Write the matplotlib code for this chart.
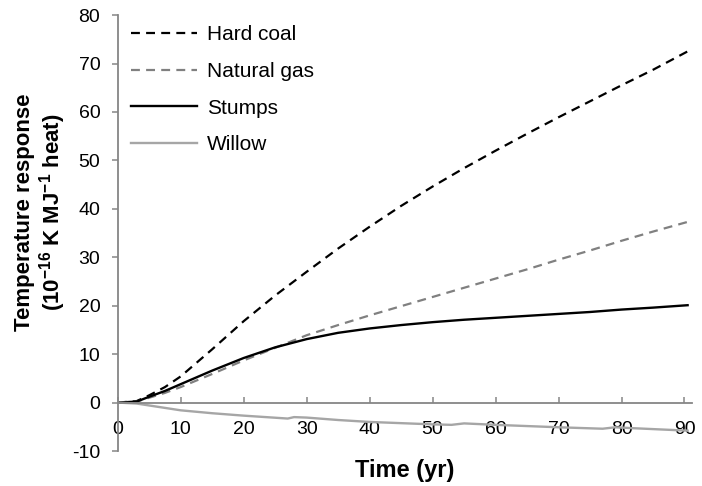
import matplotlib
matplotlib.use('Agg')
import matplotlib.pyplot as plt

plt.rcParams['font.family'] = ['Liberation Sans', 'DejaVu Sans']
plt.rcParams['mathtext.default'] = 'regular'
plt.rcParams['axes.unicode_minus'] = False

# time axis (yr) and responses (10^-16 K MJ^-1 heat)
years = [0, 3, 5, 7.5, 10, 15, 20, 25, 30, 35, 40, 45, 50, 55, 60, 65, 70, 75, 80, 85, 90.5]
hard_coal = [0, 0.3, 1.5, 3.2, 5.4, 11.0, 16.8, 22.1, 27.0, 31.8, 36.3, 40.6, 44.6, 48.4,
             52.0, 55.5, 58.9, 62.2, 65.5, 68.7, 72.5]
natural_gas = [0, 0.2, 1.0, 2.0, 3.2, 5.9, 8.7, 11.3, 13.9, 16.0, 18.0, 19.9, 21.8, 23.7,
               25.6, 27.5, 29.5, 31.4, 33.4, 35.3, 37.3]
stumps = [0, 0.2, 1.2, 2.4, 3.8, 6.6, 9.2, 11.4, 13.1, 14.4, 15.3, 16.0, 16.6, 17.1,
          17.5, 17.9, 18.3, 18.7, 19.2, 19.6, 20.1]
willow_years = [0, 3, 5, 10, 15, 20, 27, 28, 30, 35, 40, 50, 53, 55, 60, 70, 77, 79, 82, 90.5]
willow = [0, -0.2, -0.6, -1.6, -2.2, -2.7, -3.3, -3.0, -3.1, -3.6, -4.0, -4.5, -4.6, -4.3,
          -4.6, -5.1, -5.4, -5.1, -5.3, -5.8]

series_names = ['Hard coal', 'Natural gas', 'Stumps', 'Willow']

fig = plt.figure(figsize=(7.02, 4.86), dpi=100)
ax = fig.add_axes([0.1677, 0.072, 0.8181, 0.897])

ax.plot(years, hard_coal, color='black', lw=1.6, dashes=(4, 2.8), label=series_names[0])
ax.plot(years, natural_gas, color='#808080', lw=1.6, dashes=(4, 2.8), label=series_names[1])
ax.plot(years, stumps, color='black', lw=1.7, label=series_names[2])
ax.plot(willow_years, willow, color='#a6a6a6', lw=1.7, label=series_names[3])

ax.set_xlim(0, 91.2)
ax.set_ylim(-10, 80)
ax.set_xticks(range(0, 91, 10))
ax.set_yticks(range(-10, 81, 10))

axis_grey = '#868686'
for side in ['top', 'right']:
    ax.spines[side].set_visible(False)
ax.spines['bottom'].set_position(('data', 0))
for side in ['left', 'bottom']:
    ax.spines[side].set_color(axis_grey)
    ax.spines[side].set_linewidth(1.3)

ax.tick_params(axis='y', direction='out', length=4.5, width=1.1, color=axis_grey,
               labelsize=14, pad=8)
ax.tick_params(axis='x', direction='in', length=4.5, width=1.1, color=axis_grey,
               labelsize=14, pad=13)

ax.text(-0.134, 0.548, 'Temperature response\n(10$^{-16}$ K MJ$^{-1}$ heat)',
        transform=ax.transAxes, rotation=90, ha='center', va='center',
        fontsize=16, fontweight='bold', linespacing=1.1)
ax.text(0.5, -0.0596, 'Time (yr)', transform=ax.transAxes, ha='center', va='baseline',
        fontsize=17, fontweight='bold')

ax.legend(loc='upper left', bbox_to_anchor=(-0.003, 1.01), frameon=False, fontsize=15,
          handlelength=3.2, handletextpad=0.48, labelspacing=0.85, borderpad=0.2)

fig.savefig('out.png', dpi=100)
